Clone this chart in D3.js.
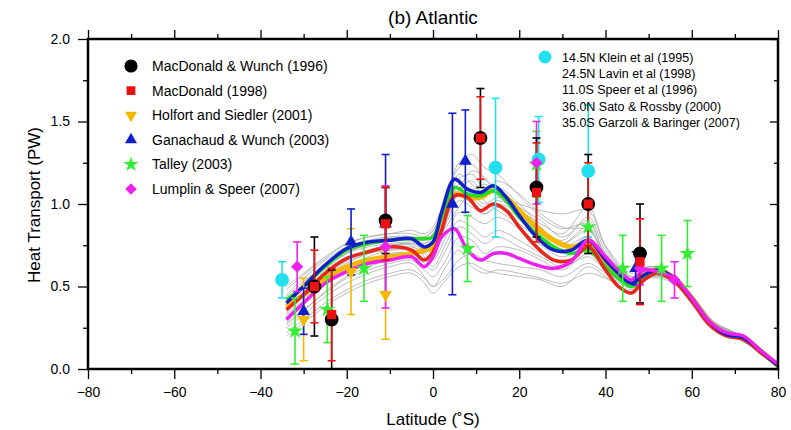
<!DOCTYPE html>
<html>
<head>
<meta charset="utf-8">
<script src="https://cdn.jsdelivr.net/npm/d3@7"></script>
<style>
  body { margin: 0; background: #fff; }
  text { font-family: "Liberation Sans", Arial, sans-serif; }
</style>
</head>
<body>
<script>
// ---- data ----
const latLine = [-34,-30,-25,-20,-15,-10,-5,-2,0,2,5,8,11,14,17,20,24,28,32,36,40,43,46,49,52,56,60,64,68,72,76,80];
const blueLine    = [0.40,0.50,0.63,0.73,0.77,0.78,0.79,0.74,0.77,0.95,1.15,1.09,1.07,1.11,1.04,0.93,0.80,0.72,0.72,0.78,0.66,0.58,0.52,0.57,0.60,0.55,0.43,0.29,0.21,0.19,0.11,0.02];
const greenLine   = [0.42,0.50,0.62,0.72,0.76,0.78,0.79,0.79,0.80,0.92,1.10,1.06,1.05,1.08,1.02,0.92,0.82,0.74,0.70,0.72,0.62,0.55,0.50,0.55,0.58,0.54,0.42,0.28,0.21,0.18,0.10,0.02];
const orangeLine  = [0.38,0.45,0.55,0.62,0.66,0.68,0.70,0.72,0.74,0.88,1.06,1.04,1.04,1.08,1.04,0.96,0.86,0.78,0.74,0.76,0.65,0.58,0.53,0.57,0.60,0.55,0.43,0.29,0.21,0.19,0.11,0.02];
const redLine     = [0.36,0.45,0.58,0.67,0.71,0.74,0.72,0.66,0.71,0.84,1.05,1.04,0.96,1.00,0.96,0.86,0.74,0.66,0.66,0.74,0.60,0.50,0.46,0.54,0.58,0.53,0.41,0.27,0.20,0.18,0.10,0.02];
const magentaLine = [0.30,0.40,0.52,0.59,0.64,0.66,0.68,0.62,0.68,0.80,0.85,0.72,0.66,0.70,0.70,0.67,0.63,0.61,0.65,0.78,0.68,0.60,0.54,0.60,0.59,0.55,0.43,0.29,0.22,0.20,0.11,0.03];

// thin grey model curves
const latGray = [-34,-30,-25,-20,-15,-10,-5,-2,0,3,6,9,12,15,20,25,30,36,40,46,50,55,60,65,70,75,80];
const gray1  = [0.50,0.58,0.68,0.76,0.80,0.82,0.84,0.82,0.86,1.05,1.25,1.30,1.22,1.18,1.05,0.92,0.85,0.88,0.70,0.55,0.62,0.58,0.45,0.28,0.22,0.14,0.03];
const gray2  = [0.22,0.30,0.40,0.48,0.54,0.58,0.60,0.55,0.50,0.62,0.72,0.62,0.58,0.60,0.58,0.55,0.52,0.58,0.55,0.48,0.56,0.54,0.42,0.26,0.20,0.12,0.02];
const gray3  = [0.35,0.46,0.60,0.70,0.76,0.80,0.80,0.76,0.82,0.98,1.18,1.12,1.05,1.10,1.00,0.86,0.74,0.80,0.65,0.52,0.60,0.56,0.44,0.28,0.21,0.13,0.02];
const gray4  = [0.30,0.40,0.52,0.62,0.68,0.72,0.74,0.70,0.66,0.80,0.95,0.92,0.88,0.92,0.85,0.75,0.68,0.74,0.62,0.50,0.58,0.55,0.42,0.27,0.20,0.12,0.02];
const gray5  = [0.45,0.55,0.66,0.74,0.78,0.80,0.78,0.72,0.76,0.92,1.08,1.20,1.16,1.05,0.95,0.84,0.78,0.92,0.72,0.56,0.62,0.57,0.44,0.28,0.22,0.13,0.03];
const gray6  = [0.28,0.36,0.46,0.55,0.60,0.64,0.66,0.60,0.56,0.66,0.80,0.78,0.70,0.74,0.72,0.66,0.60,0.70,0.60,0.50,0.57,0.54,0.43,0.27,0.20,0.12,0.02];
const gray7  = [0.40,0.50,0.62,0.70,0.74,0.76,0.77,0.76,0.80,0.96,1.12,1.04,0.98,1.02,0.96,0.88,0.82,0.98,0.75,0.58,0.62,0.58,0.45,0.29,0.21,0.13,0.02];
const gray8  = [0.33,0.42,0.55,0.64,0.70,0.74,0.76,0.74,0.70,0.88,1.02,0.98,0.94,0.98,0.92,0.82,0.72,0.78,0.66,0.52,0.59,0.55,0.43,0.27,0.21,0.12,0.02];
const gray9  = [0.25,0.33,0.44,0.52,0.58,0.62,0.64,0.56,0.50,0.56,0.66,0.70,0.66,0.64,0.62,0.60,0.56,0.64,0.58,0.49,0.56,0.54,0.42,0.26,0.20,0.12,0.02];
const gray10 = [0.42,0.52,0.64,0.72,0.77,0.79,0.80,0.80,0.84,1.00,1.15,1.18,1.10,1.14,1.06,0.94,0.86,0.84,0.70,0.55,0.61,0.57,0.44,0.28,0.22,0.13,0.03];
const gray11 = [0.38,0.47,0.58,0.66,0.72,0.75,0.75,0.68,0.62,0.76,0.90,0.86,0.80,0.84,0.78,0.70,0.64,0.72,0.62,0.51,0.58,0.55,0.43,0.27,0.20,0.12,0.02];
const gray12 = [0.48,0.57,0.67,0.76,0.80,0.82,0.82,0.80,0.84,0.98,1.10,1.06,1.00,1.04,1.00,0.96,0.94,0.96,0.74,0.56,0.62,0.58,0.45,0.29,0.22,0.14,0.03];
const gray13 = [0.32,0.41,0.53,0.60,0.66,0.70,0.70,0.64,0.60,0.72,0.86,0.82,0.76,0.80,0.74,0.68,0.62,0.68,0.60,0.50,0.58,0.55,0.43,0.27,0.20,0.12,0.02];
const gray14 = [0.36,0.45,0.56,0.65,0.70,0.72,0.72,0.70,0.76,0.92,1.05,1.00,0.94,1.00,0.94,0.84,0.76,0.84,0.68,0.53,0.60,0.56,0.44,0.28,0.21,0.13,0.02];
const gray15 = [0.27,0.35,0.47,0.56,0.62,0.66,0.68,0.66,0.72,0.90,1.08,1.14,1.02,0.96,0.88,0.78,0.70,0.80,0.64,0.51,0.58,0.55,0.43,0.27,0.20,0.12,0.02];
const gray16 = [0.44,0.53,0.63,0.71,0.75,0.78,0.79,0.78,0.82,1.02,1.22,1.24,1.15,1.08,0.98,0.90,0.80,0.90,0.68,0.54,0.60,0.57,0.44,0.28,0.21,0.13,0.03];
const gray17 = [0.20,0.28,0.38,0.46,0.52,0.56,0.58,0.52,0.46,0.54,0.62,0.64,0.60,0.58,0.56,0.54,0.50,0.62,0.56,0.47,0.55,0.53,0.42,0.26,0.19,0.12,0.02];
const gray18 = [0.34,0.44,0.57,0.66,0.72,0.75,0.76,0.72,0.74,0.86,0.98,1.08,1.12,1.06,0.94,0.82,0.76,0.86,0.66,0.53,0.59,0.56,0.43,0.27,0.21,0.13,0.02];

// observations: latitude, value, error
const mwLat = [-27.5,-23.5,-11,11,24,36,48];
const mwVal = [0.50,0.30,0.90,1.40,1.10,1.00,0.70];
const mwErr = [0.30,0.30,0.20,0.30,0.30,0.30,0.30];
const mdLat = [-27.5,-23.5,-11,11,24,36,48];
const mdVal = [0.50,0.33,0.88,1.40,1.07,1.00,0.65];
const mdErr = [0.22,0.28,0.22,0.25,0.30,0.25,0.26];
const hsLat = [-30,-19,-11];
const hsVal = [0.30,0.59,0.45];
const hsErr = [0.25,0.26,0.27];
const gwLat = [-30,-19,-11,4.5,7.5,47];
const gwVal = [0.35,0.77,0.88,1.00,1.26,0.61];
const gwErr = [0.14,0.20,0.42,0.55,0.31,0.10];
const taLat = [-32,-24.5,-16,8,24,36,44,53,59];
const taVal = [0.23,0.36,0.61,0.73,1.24,0.86,0.61,0.61,0.70];
const taErr = [0.20,0.20,0.20,0.20,0.20,0.15,0.20,0.20,0.20];
const lsLat = [-31.5,-11,24,48,56];
const lsVal = [0.62,0.74,1.25,0.61,0.54];
const lsErr = [0.15,0.37,0.25,0.10,0.11];
const hyLat = [-35,14.5,24.5,36];
const hyVal = [0.54,1.22,1.27,1.20];
const hyErr = [0.11,0.42,0.26,0.40];

const legendLeft = ["MacDonald & Wunch (1996)","MacDonald (1998)","Holfort and Siedler (2001)",
  "Ganachaud & Wunch (2003)","Talley (2003)","Lumplin & Speer (2007)"];
const legendRight = ["14.5N Klein et al (1995)","24.5N Lavin et al (1998)","11.0S Speer et al (1996)",
  "36.0N Sato & Rossby (2000)","35.0S Garzoli & Baringer (2007)"];

const xTicks = [-80,-60,-40,-20,0,20,40,60,80];
const yTicks = [0.0,0.5,1.0,1.5,2.0];

// ---- chart ----
const width = 791, height = 430;
const svg = d3.select("body").append("svg")
    .attr("width", width)
    .attr("height", height);

const x = d3.scaleLinear().domain([-80, 80]).range([88, 778]);
const y = d3.scaleLinear().domain([0, 2]).range([369, 39]);

svg.append("clipPath").attr("id", "clip")
  .append("rect").attr("x", 88).attr("y", 39).attr("width", 690).attr("height", 330);

const plot = svg.append("g").attr("clip-path", "url(#clip)");

// grey curves
const grays = [gray1,gray2,gray3,gray4,gray5,gray6,gray7,gray8,gray9,gray10,gray11,gray12,gray13,gray14,gray15,gray16,gray17,gray18];
const line = d3.line()
    .x(d => x(d[0]))
    .y(d => y(d[1]))
    .curve(d3.curveCatmullRom.alpha(0.5));

grays.forEach(g => {
  plot.append("path")
    .datum(latGray.map((l, i) => [l, g[i]]))
    .attr("fill", "none")
    .attr("stroke", "#aaaaaa")
    .attr("stroke-width", 0.8)
    .attr("d", line);
});

// thick coloured lines
const thick = [
  { vals: orangeLine, color: "#f5b800", w: 5 },
  { vals: greenLine, color: "#22dd22", w: 3.5 },
  { vals: redLine, color: "#e8261c", w: 3.5 },
  { vals: blueLine, color: "#1020c8", w: 3.5 },
  { vals: magentaLine, color: "#ee22ee", w: 3.5 }
];
thick.forEach(t => {
  plot.append("path")
    .datum(latLine.map((l, i) => [l, t.vals[i]]))
    .attr("fill", "none")
    .attr("stroke", t.color)
    .attr("stroke-width", t.w)
    .attr("stroke-linejoin", "round")
    .attr("d", line);
});

// observations
const obs = [
  { lat: hyLat, val: hyVal, err: hyErr, color: "#22e0ee", shape: d3.symbolCircle, size: 150, rot: 0 },
  { lat: hsLat, val: hsVal, err: hsErr, color: "#f5b800", shape: d3.symbolTriangle, size: 70, rot: 180 },
  { lat: gwLat, val: gwVal, err: gwErr, color: "#1020c8", shape: d3.symbolTriangle, size: 70, rot: 0 },
  { lat: taLat, val: taVal, err: taErr, color: "#33ee33", shape: d3.symbolStar, size: 80, rot: 0 },
  { lat: lsLat, val: lsVal, err: lsErr, color: "#ee22ee", shape: d3.symbolSquare, size: 75, rot: 45 },
  { lat: mwLat, val: mwVal, err: mwErr, color: "#000000", shape: d3.symbolCircle, size: 150, rot: 0 },
  { lat: mdLat, val: mdVal, err: mdErr, color: "#ee1111", shape: d3.symbolSquare, size: 85, rot: 0 }
];

const bars = svg.append("g").attr("clip-path", "url(#clip)");
obs.forEach(o => {
  o.lat.forEach((l, i) => {
    const cx = x(l), top = y(o.val[i] + o.err[i]), bot = y(o.val[i] - o.err[i]);
    bars.append("line").attr("x1", cx).attr("x2", cx).attr("y1", top).attr("y2", bot)
      .attr("stroke", o.color).attr("stroke-width", 1.6);
    [top, bot].forEach(yy => {
      bars.append("line").attr("x1", cx - 4).attr("x2", cx + 4).attr("y1", yy).attr("y2", yy)
        .attr("stroke", o.color).attr("stroke-width", 1.6);
    });
  });
});

const marks = svg.append("g");
obs.forEach(o => {
  o.lat.forEach((l, i) => {
    marks.append("path")
      .attr("d", d3.symbol().type(o.shape).size(o.size)())
      .attr("transform", `translate(${x(l)},${y(o.val[i])}) rotate(${o.rot})`)
      .attr("fill", o.color);
  });
});

// frame
svg.append("rect")
  .attr("x", 88).attr("y", 39).attr("width", 690).attr("height", 330)
  .attr("fill", "none").attr("stroke", "#000").attr("stroke-width", 2.5);

// axes
const xMinor = d3.range(-80, 81, 10);
const yMinor = d3.range(0, 2.01, 0.25);

svg.append("g")
  .attr("transform", "translate(0,369)")
  .call(d3.axisBottom(x).tickValues(xTicks).tickSize(10).tickPadding(8).tickFormat(d3.format("d")))
  .call(g => g.select(".domain").remove())
  .call(g => g.selectAll("line").attr("stroke-width", 1.3))
  .call(g => g.selectAll("text").attr("font-size", 14).attr("fill", "#000")
      .attr("font-family", "'Liberation Sans', Arial, sans-serif"));
svg.append("g")
  .attr("transform", "translate(0,369)")
  .call(d3.axisBottom(x).tickValues(xMinor.filter(v => v % 20 !== 0)).tickSize(5).tickFormat(""))
  .call(g => g.select(".domain").remove())
  .call(g => g.selectAll("line").attr("stroke-width", 1.3));

svg.append("g")
  .attr("transform", "translate(0,39)")
  .call(d3.axisTop(x).tickValues(xTicks).tickSize(9).tickFormat(""))
  .call(g => g.select(".domain").remove())
  .call(g => g.selectAll("line").attr("stroke-width", 1.3));
svg.append("g")
  .attr("transform", "translate(0,39)")
  .call(d3.axisTop(x).tickValues(xMinor.filter(v => v % 20 !== 0)).tickSize(5).tickFormat(""))
  .call(g => g.select(".domain").remove())
  .call(g => g.selectAll("line").attr("stroke-width", 1.3));

svg.append("g")
  .attr("transform", "translate(88,0)")
  .call(d3.axisLeft(y).tickValues(yTicks).tickSize(10).tickPadding(8).tickFormat(d3.format(".1f")))
  .call(g => g.select(".domain").remove())
  .call(g => g.selectAll("line").attr("stroke-width", 1.3))
  .call(g => g.selectAll("text").attr("font-size", 14).attr("fill", "#000")
      .attr("font-family", "'Liberation Sans', Arial, sans-serif"));
svg.append("g")
  .attr("transform", "translate(88,0)")
  .call(d3.axisLeft(y).tickValues(yMinor.filter((v, i) => i % 2 === 1)).tickSize(5).tickFormat(""))
  .call(g => g.select(".domain").remove())
  .call(g => g.selectAll("line").attr("stroke-width", 1.3));

svg.append("g")
  .attr("transform", "translate(778,0)")
  .call(d3.axisLeft(y).tickValues(yTicks).tickSize(8).tickFormat(""))
  .call(g => g.select(".domain").remove())
  .call(g => g.selectAll("line").attr("stroke-width", 1.3));
svg.append("g")
  .attr("transform", "translate(778,0)")
  .call(d3.axisLeft(y).tickValues(yMinor.filter((v, i) => i % 2 === 1)).tickSize(4).tickFormat(""))
  .call(g => g.select(".domain").remove())
  .call(g => g.selectAll("line").attr("stroke-width", 1.3));

// titles
svg.append("text")
  .attr("x", 433).attr("y", 24)
  .attr("text-anchor", "middle")
  .attr("font-size", 19)
  .text("(b) Atlantic");

svg.append("text")
  .attr("x", 433).attr("y", 425)
  .attr("text-anchor", "middle")
  .attr("font-size", 17)
  .text("Latitude (˚S)");

svg.append("text")
  .attr("transform", "translate(40,205) rotate(-90)")
  .attr("text-anchor", "middle")
  .attr("font-size", 17)
  .text("Heat Transport (PW)");

// left legend
const legendObs = [obs[5], obs[6], obs[1], obs[2], obs[3], obs[4]];
legendLeft.forEach((name, i) => {
  const ly = 66 + i * 24.6;
  const o = legendObs[i];
  svg.append("path")
    .attr("d", d3.symbol().type(o.shape).size(o.size * 0.9)())
    .attr("transform", `translate(131,${ly}) rotate(${o.rot})`)
    .attr("fill", o.color);
  svg.append("text")
    .attr("x", 152).attr("y", ly + 5)
    .attr("font-size", 14)
    .text(name);
});

// right legend
svg.append("path")
  .attr("d", d3.symbol().type(d3.symbolCircle).size(130)())
  .attr("transform", "translate(545,57)")
  .attr("fill", obs[0].color);
legendRight.forEach((name, i) => {
  svg.append("text")
    .attr("x", 562).attr("y", 61.5 + i * 16.4)
    .attr("font-size", 12.5)
    .text(name);
});
</script>
</body>
</html>
